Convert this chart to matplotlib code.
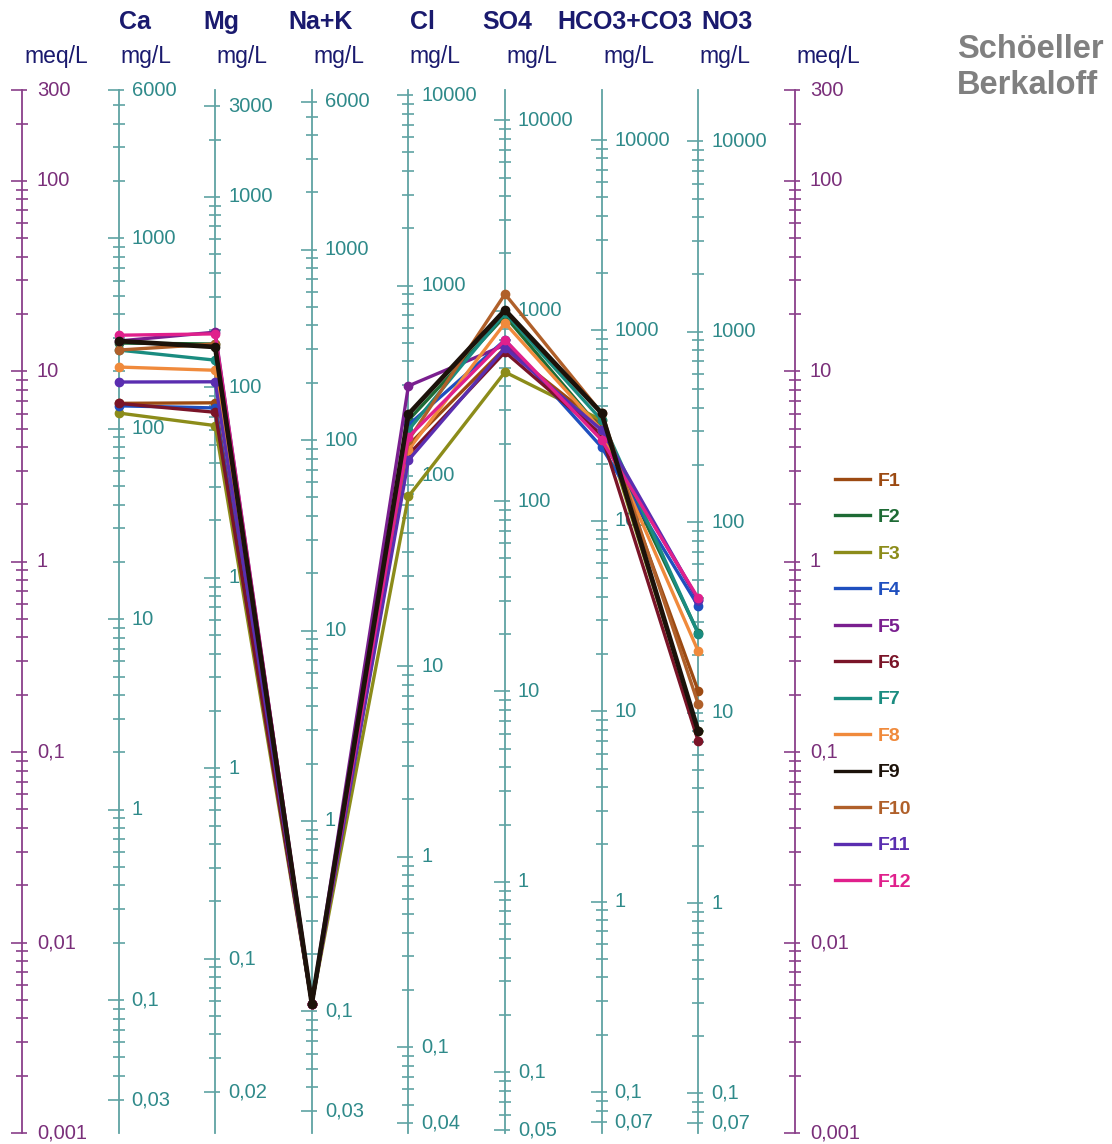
import numpy as np
import matplotlib.pyplot as plt
import matplotlib.transforms as mtransforms
from matplotlib.lines import Line2D

plt.rcParams['font.family'] = ['Liberation Sans', 'DejaVu Sans']

# ions and their equivalent weights (mg per meq)
ions = ['Ca', 'Mg', 'Na+K', 'Cl', 'SO4', 'HCO3+CO3', 'NO3']
eq_weight = [20.04, 12.15, 22.99, 35.45, 48.03, 61.02, 62.00]

samples = ['F1', 'F2', 'F3', 'F4', 'F5', 'F6', 'F7', 'F8', 'F9', 'F10', 'F11', 'F12']
colors = ['#9c4a12', '#1e6b35', '#8c8c1a', '#1f4fbf', '#7a1f8f', '#7a1428',
          '#1a8c80', '#f08a3c', '#1c120a', '#b0602a', '#5a2eb0', '#e0208c']

# concentrations in mg/L, one value per sample (F1..F12)
ca = [136, 282, 121, 132, 289, 136, 259, 211, 289, 259, 176, 310]
mg = [83, 169, 63, 78, 195, 74, 139, 123, 163, 169, 107, 191]
na_k = [0.11, 0.11, 0.11, 0.11, 0.11, 0.11, 0.11, 0.11, 0.11, 0.11, 0.11, 0.11]
cl = [145, 196, 78, 185, 297, 129, 174, 137, 211, 154, 121, 160]
so4 = [636, 937, 476, 701, 660, 606, 971, 861, 1007, 1222, 636, 701]
hco3 = [318, 300, 338, 244, 282, 282, 338, 300, 368, 368, 300, 266]
no3 = [13.0, 26.2, 8.0, 36.3, 39.0, 7.09, 26.0, 21.0, 8.0, 11.1, 39.0, 39.9]

meq_lo, meq_hi = 0.001, 300

W, H = 1112, 1144
fig = plt.figure(figsize=(W / 100, H / 100), dpi=100)
top_px, bot_px = 90, 1133
ax = fig.add_axes([0, 1 - bot_px / H, 1, (bot_px - top_px) / H])
x0, dx = 22, 96.6
ax.set_xlim(-x0 / dx, (W - x0) / dx)
ax.set_yscale('log')
ax.set_ylim(meq_lo, meq_hi)
ax.set_axis_off()

PX = 72 / 100  # px -> points
major_mk = [(-11, 0), (5, 0)]
minor_mk = [(-6, 0), (6, 0)]


def tick_values(lo, hi):
    vals = []
    for k in range(-4, 6):
        for m in range(1, 10):
            v = m * 10.0 ** k
            if lo * 0.999 <= v <= hi * 1.001:
                vals.append(v)
    return vals


def fmt(v):
    if v >= 1:
        return f'{v:.0f}'
    return f'{v:.3f}'.rstrip('0').replace('.', ',')


def draw_axis(xpos, w, line_color, text_color, lab_off):
    vals = tick_values(meq_lo * w, meq_hi * w)
    ax.plot([xpos, xpos], [meq_lo, meq_hi], color=line_color, lw=1.3, clip_on=False, zorder=1)
    majors = [v for v in vals if abs(np.log10(v) - round(np.log10(v))) < 1e-9]
    majors = sorted(set(majors + [vals[0], vals[-1]]))
    minors = [v for v in vals if v not in majors]
    ax.plot([xpos] * len(minors), np.array(minors) / w, ls='none', marker=minor_mk,
            ms=12 * PX, mec=line_color, mew=1.2, clip_on=False, zorder=1)
    ax.plot([xpos] * len(majors), np.array(majors) / w, ls='none', marker=major_mk,
            ms=22 * PX, mec=line_color, mew=1.2, clip_on=False, zorder=1)
    for v in majors:
        ax.annotate(fmt(v), (xpos, v / w), xytext=(lab_off * PX, 0), textcoords='offset points',
                    ha='left', va='center', fontsize=14.5, color=text_color, zorder=1)


# meq/L axes on both sides, mg/L axes per ion
draw_axis(0, 1.0, '#8a3f8a', '#7a2f7a', 15)
draw_axis(len(ions) + 1, 1.0, '#8a3f8a', '#7a2f7a', 15)
for i, w in enumerate(eq_weight):
    draw_axis(i + 1, w, '#5fa3a3', '#2f8a8a', 13)

# column headers
blend = mtransforms.blended_transform_factory(ax.transData, fig.transFigure)
head_off = [16, 6, 9, 14, 2, 23, 29]
for i, name in enumerate(ions):
    ax.annotate(name, (i + 1, 1 - 22 / H), xycoords=blend, xytext=(head_off[i] * PX, 0),
                textcoords='offset points', ha='center', va='center', fontsize=18,
                weight='bold', color='#1a1a6e')
    ax.annotate('mg/L', (i + 1, 1 - 57 / H), xycoords=blend, xytext=(27 * PX, 0),
                textcoords='offset points', ha='center', va='center', fontsize=16.5,
                color='#1a1a6e')
for xpos in (0, len(ions) + 1):
    ax.annotate('meq/L', (xpos, 1 - 57 / H), xycoords=blend, xytext=(34 * PX, 0),
                textcoords='offset points', ha='center', va='center', fontsize=16.5,
                color='#1a1a6e')

fig.text(957 / W, 1 - 49 / H, 'Schöeller', ha='left', va='center', fontsize=23.5,
         weight='bold', color='#808080')
fig.text(957 / W, 1 - 85 / H, 'Berkaloff', ha='left', va='center', fontsize=23.5,
         weight='bold', color='#808080')

# sample lines (values converted to meq/L)
data_mg = np.array([ca, mg, na_k, cl, so4, hco3, no3])
meq = data_mg / np.array(eq_weight)[:, None]
xs = np.arange(1, len(ions) + 1)
for j, s in enumerate(samples):
    lw = 3.4 if s == 'F9' else 2.4
    ax.plot(xs, meq[:, j], color=colors[j], lw=lw, marker='o', ms=6,
            clip_on=False, zorder=3 + (j == 8))

handles = [Line2D([], [], color=c, lw=2.4) for c in colors]
ax.legend(handles, samples, loc='upper left', bbox_to_anchor=(835 / W, 1 - 472 / H),
          bbox_transform=fig.transFigure, frameon=False,
          prop={'weight': 'bold', 'size': 14}, labelcolor='linecolor',
          handlelength=1.8, handletextpad=0.4, labelspacing=0.97,
          borderpad=0, borderaxespad=0)

fig.savefig('out.png', dpi=100)
